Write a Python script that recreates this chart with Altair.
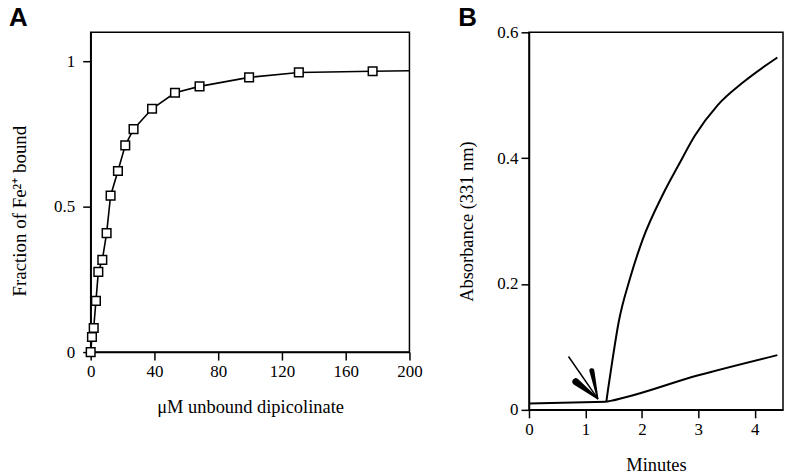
import altair as alt
import pandas as pd

# ---------------- Panel A data ----------------
a_conc = [0, 0.8, 1.9, 3.3, 4.8, 7.3, 10.0, 12.5, 17.1, 21.7, 26.9, 38.5, 52.9, 68.3, 99.4, 130.6, 176.9]
a_frac = [0, 0.052, 0.083, 0.176, 0.276, 0.317, 0.409, 0.538, 0.623, 0.711, 0.767, 0.837, 0.892, 0.914, 0.945, 0.962, 0.966]
a_line_end_conc = [200]
a_line_end_frac = [0.968]
a_xticks = [0, 40, 80, 120, 160, 200]
a_yticks = [0, 0.5, 1]

# ---------------- Panel B data ----------------
b_base_t = [0, 1.37]
b_base_a = [0.010, 0.013]
b_fast_t = [1.37, 1.40, 1.475, 1.59, 1.79, 2.02, 2.365, 2.65, 2.94, 3.34, 3.80, 4.40]
b_fast_a = [0.013, 0.032, 0.077, 0.140, 0.209, 0.272, 0.341, 0.389, 0.436, 0.484, 0.521, 0.560]
b_slow_t = [1.37, 1.446, 3.0, 4.40]
b_slow_a = [0.013, 0.0143, 0.055, 0.087]
b_xticks = [0, 1, 2, 3, 4]
b_yticks = [0, 0.2, 0.4, 0.6]

# arrow annotation (data coordinates)
arrow_shaft_t = [0.70, 1.217]
arrow_shaft_a = [0.0848, 0.0178]
arrow_barb1_t = [1.114, 1.217]
arrow_barb1_a = [0.0622, 0.0178]
arrow_barb1_w = [5, 1.5]
arrow_barb2_t = [0.830, 1.217]
arrow_barb2_a = [0.0448, 0.0178]
arrow_barb2_w = [7, 1.5]

panel_letters = ["A", "B"]

SERIF = "Liberation Serif"


def letter(text, dx):
    return alt.Chart(pd.DataFrame({"label": [text]})).mark_text(
        font="Liberation Sans", fontSize=26, fontWeight="bold", color="black",
        align="left", baseline="alphabetic"
    ).encode(x=alt.value(dx), y=alt.value(-6), text="label:N")


# ---------------- Panel A ----------------
dfA = pd.DataFrame({"conc": a_conc, "frac": a_frac})
dfA_line = pd.DataFrame({"conc": a_conc + a_line_end_conc, "frac": a_frac + a_line_end_frac})

xA = alt.X("conc:Q", scale=alt.Scale(domain=[0, 200], nice=False, zero=False),
           axis=alt.Axis(values=a_xticks, title="μM unbound dipicolinate", labelFlush=False,
                         format="d"))
yA = alt.Y("frac:Q", scale=alt.Scale(domain=[0, 1.1], nice=False, zero=False),
           axis=alt.Axis(values=a_yticks, title="Fraction of Fe²⁺ bound", format="~g",
                         labelPadding=8, titlePadding=24, titleY=179, titleFontSize=19))

lineA = alt.Chart(dfA_line).mark_line(color="black", strokeWidth=1.6).encode(x=xA, y=yA)
ptsA = alt.Chart(dfA).mark_point(shape="square", filled=True, fill="white", stroke="black",
                                 strokeWidth=1.5, size=75, opacity=1).encode(x=xA, y=yA)

chartA = alt.layer(lineA, ptsA, letter(panel_letters[0], -82)).properties(width=320, height=321)

# ---------------- Panel B ----------------
dfB = pd.DataFrame({
    "t": b_base_t + b_fast_t + b_slow_t,
    "a": b_base_a + b_fast_a + b_slow_a,
    "series": ["base"] * len(b_base_t) + ["fast"] * len(b_fast_t) + ["slow"] * len(b_slow_t),
})
dfShaft = pd.DataFrame({"t": arrow_shaft_t, "a": arrow_shaft_a})
dfBarbs = pd.DataFrame({
    "t": arrow_barb1_t + arrow_barb2_t,
    "a": arrow_barb1_a + arrow_barb2_a,
    "w": arrow_barb1_w + arrow_barb2_w,
    "barb": ["b1"] * 2 + ["b2"] * 2,
})

xB = alt.X("t:Q", scale=alt.Scale(domain=[0, 4.5], nice=False, zero=False),
           axis=alt.Axis(values=b_xticks, title="Minutes", labelFlush=False, format="d"))
yB = alt.Y("a:Q", scale=alt.Scale(domain=[0, 0.6], nice=False, zero=False),
           axis=alt.Axis(values=b_yticks, title="Absorbance (331 nm)", format="~g",
                         labelPadding=3, titlePadding=20))

linesB = alt.Chart(dfB).mark_line(color="black", strokeWidth=2, interpolate="monotone").encode(
    x=xB, y=yB, detail="series:N")
shaft = alt.Chart(dfShaft).mark_line(color="black", strokeWidth=1.5).encode(x=xB, y=yB)
barbs = alt.Chart(dfBarbs).mark_trail(color="black").encode(
    x=xB, y=yB, detail="barb:N", size=alt.Size("w:Q", scale=None, legend=None))

chartB = alt.layer(linesB, shaft, barbs, letter(panel_letters[1], -71)).properties(width=255, height=379)

chart = alt.hconcat(chartA, chartB, spacing=34).properties(
    padding={"left": 0, "top": -4.5, "right": 0, "bottom": 0}
).configure_view(
    stroke="black", strokeWidth=1.5
).configure_axis(
    grid=False, domainColor="black", domainWidth=1.5, tickColor="black", tickWidth=1.5,
    tickSize=8, labelFont=SERIF, labelFontSize=17, labelColor="black", labelPadding=4,
    titleFont=SERIF, titleFontSize=18.5, titleFontWeight="normal", titleColor="black",
    titlePadding=18
)

chart.save("out.html", embed_options={"renderer": "svg", "actions": False})
